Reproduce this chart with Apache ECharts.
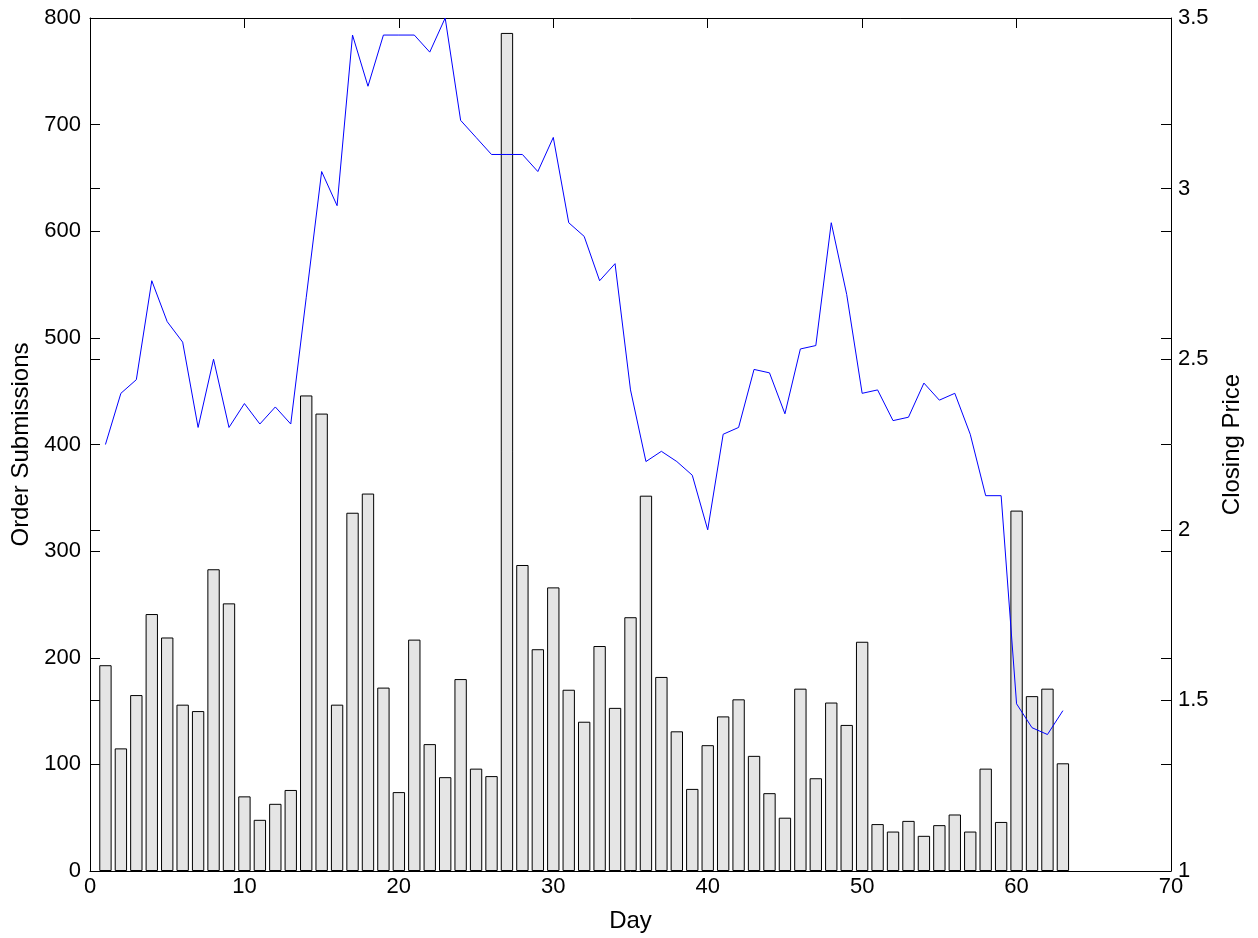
<!DOCTYPE html>
<html>
<head>
<meta charset="utf-8">
<title>Order Submissions and Closing Price</title>
<script src="https://cdn.jsdelivr.net/npm/echarts@6/dist/echarts.min.js"></script>
<style>
  html, body { margin: 0; padding: 0; background: #fff; }
  #chart { width: 1258px; height: 938px; }
</style>
</head>
<body>
<div id="chart"></div>
<script>
// Trading days
const days = [
  1, 2, 3, 4, 5, 6, 7, 8, 9, 10,
  11, 12, 13, 14, 15, 16, 17, 18, 19, 20,
  21, 22, 23, 24, 25, 26, 27, 28, 29, 30,
  31, 32, 33, 34, 35, 36, 37, 38, 39, 40,
  41, 42, 43, 44, 45, 46, 47, 48, 49, 50,
  51, 52, 53, 54, 55, 56, 57, 58, 59, 60,
  61, 62, 63
];

// Number of order submissions per day (left axis)
const orderSubmissions = [
  193, 115, 165, 241, 219, 156, 150, 283, 251, 70,
  48, 63, 76, 446, 429, 156, 336, 354, 172, 74,
  217, 119, 88, 180, 96, 89, 786, 287, 208, 266,
  170, 140, 211, 153, 238, 352, 182, 131, 77, 118,
  145, 161, 108, 73, 50, 171, 87, 158, 137, 215,
  44, 37, 47, 33, 43, 53, 37, 96, 46, 338,
  164, 171, 101
];

// Closing price per day (right axis)
const closingPrice = [
  2.25, 2.40, 2.44, 2.73, 2.61, 2.55, 2.30, 2.50, 2.30, 2.37,
  2.31, 2.36, 2.31, 2.68, 3.05, 2.95, 3.45, 3.30, 3.45, 3.45,
  3.45, 3.40, 3.50, 3.20, 3.15, 3.10, 3.10, 3.10, 3.05, 3.15,
  2.90, 2.86, 2.73, 2.78, 2.41, 2.20, 2.23, 2.20, 2.16, 2.00,
  2.28, 2.30, 2.47, 2.46, 2.34, 2.53, 2.54, 2.90, 2.69, 2.40,
  2.41, 2.32, 2.33, 2.43, 2.38, 2.40, 2.28, 2.10, 2.10, 1.49,
  1.42, 1.40, 1.47
];

const FONT = '"Liberation Sans", Arial, Helvetica, sans-serif';
const grid = { left: 90, right: 87, top: 18, bottom: 67 };
const xRange = { min: 0, max: 70, interval: 10 };
const leftRange = { min: 0, max: 800, interval: 100 };
const rightRange = { min: 1, max: 3.5, interval: 0.5 };

const chartWidth = 1258 - grid.left - grid.right;
const barWidth = chartWidth / (xRange.max - xRange.min) * 0.8;

const lineStyle = { color: '#000', width: 1 };
const axisLineOn = { show: true, onZero: false, lineStyle: lineStyle };
const axisLineOff = { show: false, onZero: false };
const tickStyle = { show: true, inside: true, length: 10, lineStyle: { color: '#000', width: 1 } };
const labelStyle = { color: '#000', fontFamily: FONT, fontSize: 22 };
const nameStyle = { color: '#000', fontFamily: FONT, fontSize: 24 };

const chart = echarts.init(document.getElementById('chart'), null, { renderer: 'canvas' });

chart.setOption({
  animation: false,
  backgroundColor: '#fff',
  grid: grid,
  xAxis: [
    {
      type: 'value', position: 'bottom', ...xRange,
      name: 'Day', nameLocation: 'middle', nameGap: 38, nameTextStyle: nameStyle,
      axisLine: axisLineOn,
      axisTick: tickStyle,
      axisLabel: { ...labelStyle, margin: 5 },
      splitLine: { show: false }
    },
    {
      // top frame edge with mirrored ticks
      type: 'value', position: 'top', ...xRange,
      axisLine: axisLineOn,
      axisTick: tickStyle,
      axisLabel: { show: false },
      splitLine: { show: false }
    }
  ],
  yAxis: [
    {
      type: 'value', position: 'left', ...leftRange,
      name: 'Order Submissions', nameLocation: 'middle', nameGap: 55, nameRotate: 90,
      nameTextStyle: nameStyle,
      axisLine: axisLineOn,
      axisTick: tickStyle,
      axisLabel: { ...labelStyle, margin: 9 },
      splitLine: { show: false }
    },
    {
      type: 'value', position: 'right', ...rightRange,
      name: 'Closing Price', nameLocation: 'middle', nameGap: 49, nameRotate: 90,
      nameTextStyle: nameStyle,
      axisLine: axisLineOn,
      axisTick: tickStyle,
      axisLabel: { ...labelStyle, margin: 7 },
      splitLine: { show: false }
    },
    {
      // left-axis ticks mirrored on the right edge
      type: 'value', position: 'right', ...leftRange,
      axisLine: axisLineOff,
      axisTick: tickStyle,
      axisLabel: { show: false },
      splitLine: { show: false }
    },
    {
      // right-axis ticks mirrored on the left edge
      type: 'value', position: 'left', ...rightRange,
      axisLine: axisLineOff,
      axisTick: tickStyle,
      axisLabel: { show: false },
      splitLine: { show: false }
    }
  ],
  series: [
    {
      name: 'Order Submissions',
      type: 'bar',
      xAxisIndex: 0,
      yAxisIndex: 0,
      barWidth: barWidth,
      data: days.map((d, i) => [d, orderSubmissions[i]]),
      itemStyle: { color: '#e5e5e5', borderColor: '#000', borderWidth: 1 },
      z: 2
    },
    {
      name: 'Closing Price',
      type: 'line',
      xAxisIndex: 0,
      yAxisIndex: 1,
      data: days.map((d, i) => [d, closingPrice[i]]),
      showSymbol: false,
      symbol: 'none',
      lineStyle: { color: '#0000ff', width: 1 },
      itemStyle: { color: '#0000ff' },
      z: 3
    }
  ]
});
</script>
</body>
</html>
